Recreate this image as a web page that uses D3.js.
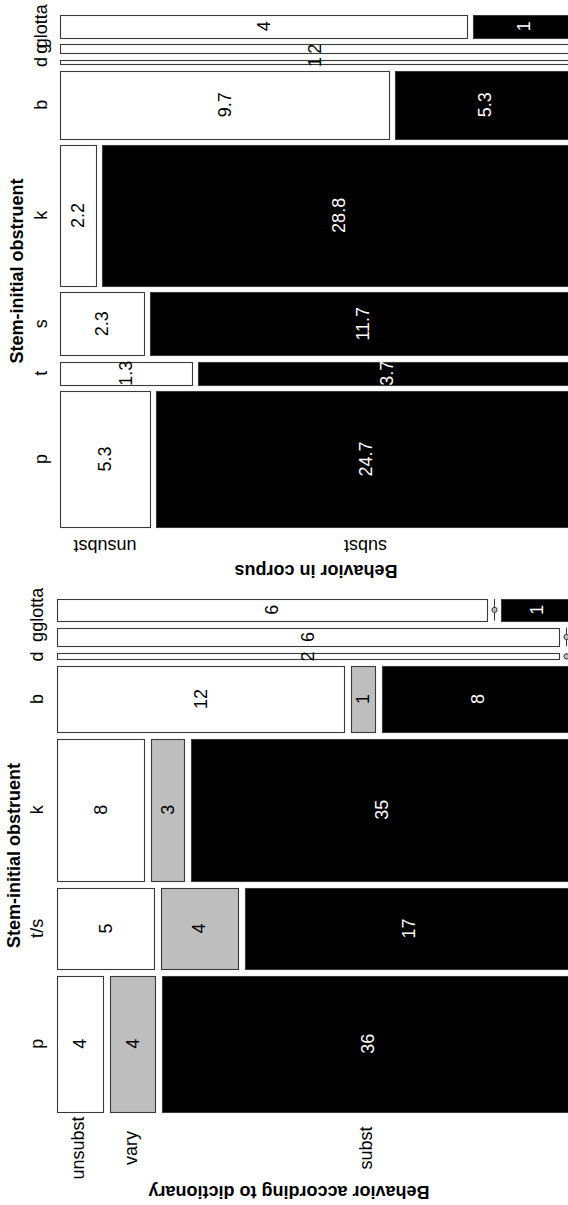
<!DOCTYPE html>
<html>
<head>
<meta charset="utf-8">
<script src="https://cdn.jsdelivr.net/npm/d3@7"></script>
<style>
  html, body { margin: 0; padding: 0; background: #fff; }
  svg { display: block; }
  text { font-family: "Liberation Sans", Arial, sans-serif; }
</style>
</head>
<body>
<div id="chart"></div>
<script>
// ---- Data ----
// Bottom panel: behaviour according to dictionary
const dictCats = ["p", "t/s", "k", "b", "d", "g", "glotta"];
const dictLevels = ["unsubst", "vary", "subst"];
const dictUnsubst = [4, 5, 8, 12, 2, 6, 6];
const dictVary    = [4, 4, 3, 1, 0, 0, 0];
const dictSubst   = [36, 17, 35, 8, 0, 0, 1];

// Top panel: behaviour in corpus
const corpusCats = ["p", "t", "s", "k", "b", "d", "g", "glotta"];
const corpusLevels = ["unsubst", "subst"];
const corpusUnsubst = [5.3, 1.3, 2.3, 2.2, 9.7, 1, 2, 4];
const corpusSubst   = [24.7, 3.7, 11.7, 28.8, 5.3, 0, 0, 1];

const factorTitle = "Stem-initial obstruent";
const dictTitle = "Behavior according to dictionary";
const corpusTitle = "Behavior in corpus";

// ---- Drawing ----
const Wd = 568, Hd = 1205;
const svg = d3.select("#chart").append("svg")
  .attr("width", Wd).attr("height", Hd);
svg.append("rect").attr("width", Wd).attr("height", Hd).attr("fill", "#fff");

const FS = 18;

function mosaic(opts) {
  const { cats, levels, series, fills, textFills } = opts;
  const g = svg.append("g");
  const n = cats.length;
  const totals = cats.map((c, i) => d3.sum(series, s => s[i]));
  const grand = d3.sum(totals);
  const cum = d3.cumsum([0].concat(totals));
  const y = d3.scaleLinear().domain([0, grand])
    .range([opts.yBottom, opts.yTop + (n - 1) * opts.rowGap]);
  const x = d3.scaleLinear().domain([0, 1]).range([opts.x0, opts.x0 + opts.W]);

  const cells = [];
  const rows = [];
  cats.forEach((cat, i) => {
    const yb = y(cum[i]) - i * opts.rowGap;
    const yt = y(cum[i] + totals[i]) - i * opts.rowGap;
    rows.push({ cat, yb, yt, yc: (yb + yt) / 2 });
    let c = 0;
    levels.forEach((lv, j) => {
      const v = series[j][i];
      const f = v / totals[i];
      const xs = x(c) + j * opts.colGap;
      const xe = x(c + f) + j * opts.colGap;
      cells.push({ i, j, v, xs, xe, yt, yb });
      c += f;
    });
  });

  const px = v => Math.round(v) + 0.5;
  // rectangles
  g.selectAll("rect.cell").data(cells.filter(d => d.v > 0)).join("rect")
    .attr("class", "cell")
    .attr("x", d => px(d.xs))
    .attr("y", d => px(d.yt))
    .attr("width", d => Math.max(1, Math.round(d.xe) - Math.round(d.xs)))
    .attr("height", d => Math.max(1, Math.round(d.yb) - Math.round(d.yt)))
    .attr("fill", d => fills[d.j])
    .attr("stroke", "#3a3a3a")
    .attr("stroke-width", 1.1);

  // zero-cell markers
  const zeros = cells.filter(d => d.v === 0);
  g.selectAll("line.zero").data(zeros).join("line")
    .attr("class", "zero")
    .attr("x1", d => px(d.xs)).attr("x2", d => px(d.xs))
    .attr("y1", d => d.yt).attr("y2", d => d.yb)
    .attr("stroke", "#333").attr("stroke-width", 1);
  g.selectAll("circle.zero").data(zeros).join("circle")
    .attr("class", "zero")
    .attr("cx", d => px(d.xs)).attr("cy", d => (d.yt + d.yb) / 2)
    .attr("r", 2.6)
    .attr("fill", "#bebebe").attr("stroke", "#333").attr("stroke-width", 1);

  // cell labels
  g.selectAll("text.val").data(cells.filter(d => d.v > 0)).join("text")
    .attr("class", "val")
    .attr("transform", d => `translate(${(d.xs + d.xe) / 2},${(d.yt + d.yb) / 2}) rotate(-90)`)
    .attr("text-anchor", "middle").attr("dy", "0.35em")
    .attr("font-size", FS).attr("fill", d => textFills[d.j])
    .text(d => d.v);

  // row (category) labels
  g.selectAll("text.cat").data(rows).join("text")
    .attr("class", "cat")
    .attr("transform", d => `translate(${opts.catX},${d.yc}) rotate(-90)`)
    .attr("text-anchor", "middle").attr("dy", "0.35em")
    .attr("font-size", FS).text(d => d.cat);

  // factor title
  g.append("text")
    .attr("transform", `translate(${opts.factorX},${(opts.yTop + opts.yBottom) / 2}) rotate(-90)`)
    .attr("text-anchor", "middle").attr("dy", "0.35em")
    .attr("font-size", FS).attr("font-weight", "bold").text(factorTitle);

  // level labels, centred on the first row's cells
  const first = cells.filter(d => d.i === 0);
  g.selectAll("text.lvl").data(first).join("text")
    .attr("class", "lvl")
    .attr("transform", d => `translate(${(d.xs + d.xe) / 2 + opts.levelDx},${opts.levelY}) rotate(${opts.levelRot})`)
    .attr("text-anchor", "middle").attr("dy", "0.35em")
    .attr("font-size", FS).text(d => levels[d.j]);

  // response title
  g.append("text")
    .attr("transform", `translate(${opts.titleX},${opts.titleY}) rotate(180)`)
    .attr("text-anchor", "middle").attr("dy", "0.35em")
    .attr("font-size", FS).attr("font-weight", "bold").text(opts.title);
}

// Top panel (corpus)
mosaic({
  cats: corpusCats, levels: corpusLevels,
  series: [corpusUnsubst, corpusSubst],
  fills: ["#ffffff", "#000000"], textFills: ["#000", "#fff"],
  yTop: 15, yBottom: 527, rowGap: 6.5,
  x0: 60, W: 509, colGap: 6,
  catX: 41, factorX: 17,
  levelY: 546, levelRot: 180, levelDx: 0,
  title: corpusTitle, titleX: 316, titleY: 571
});

// Bottom panel (dictionary)
mosaic({
  cats: dictCats, levels: dictLevels,
  series: [dictUnsubst, dictVary, dictSubst],
  fills: ["#ffffff", "#bebebe", "#000000"], textFills: ["#000", "#000", "#fff"],
  yTop: 599, yBottom: 1112, rowGap: 7,
  x0: 57, W: 502, colGap: 7,
  catX: 37, factorX: 14,
  levelY: 1148, levelRot: -90, levelDx: -2,
  title: dictTitle, titleX: 289, titleY: 1192
});
</script>
</body>
</html>
